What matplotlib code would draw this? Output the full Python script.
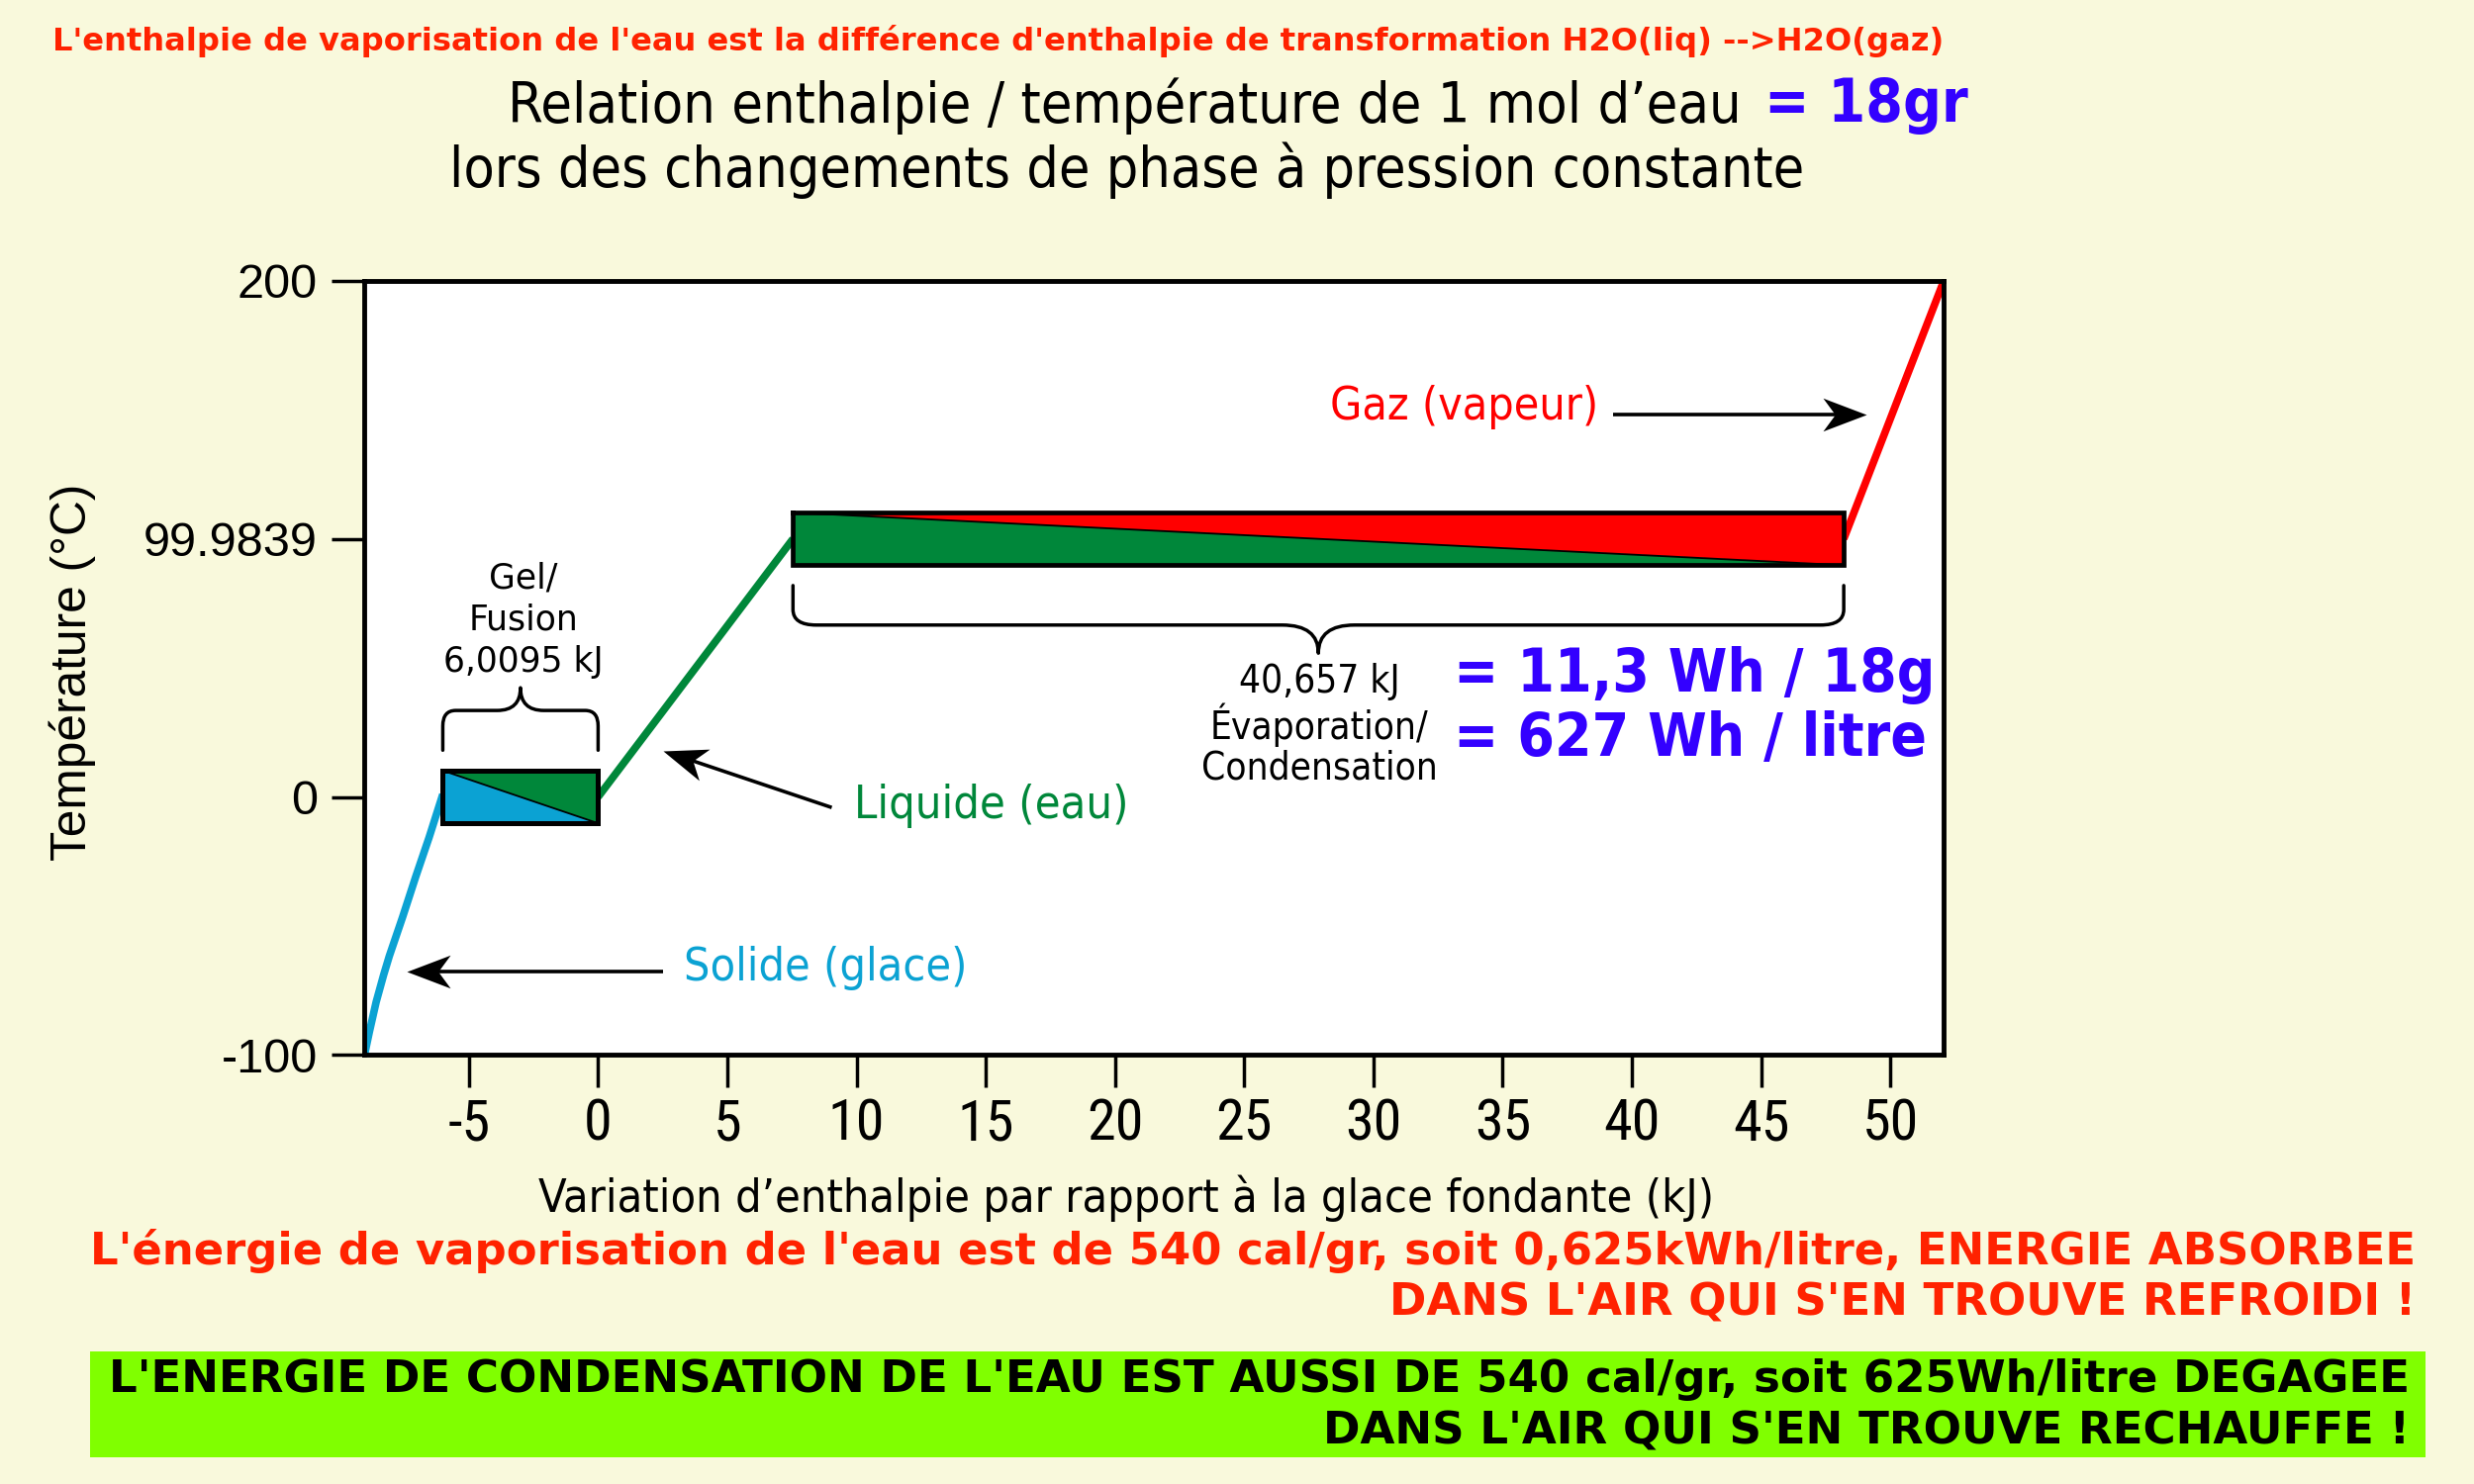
import math
import matplotlib
matplotlib.use('Agg')
import matplotlib.pyplot as plt
from matplotlib.path import Path
from matplotlib.patches import PathPatch, Rectangle
from matplotlib.markers import MarkerStyle
from matplotlib import font_manager as fm

# ---------------- data ----------------
solid_x = [-9.04, -8.85, -8.59, -8.30, -8.08, -7.56, -7.06, -6.54, -6.01]
solid_y = [-100, -91.0, -79.5, -69.0, -61.7, -46.4, -31.0, -15.7, 1.0]
fusion_x = [-6.0095, 0.0]          # fusion plateau (6,0095 kJ)
fusion_t = 0.0
liquid_x = [0.0, 7.54]
liquid_y = [0.0, 99.9839]
vapor_x = [7.54, 48.197]           # evaporation plateau (40,657 kJ)
vapor_t = 99.9839
gas_x = [48.197, 52.07]
gas_y = [99.9839, 200.0]

xticks = [-5, 0, 5, 10, 15, 20, 25, 30, 35, 40, 45, 50]
xtick_labels = [str(v) for v in xticks]
yticks = [-100, 0, 99.9839, 200]
ytick_labels = ['-100', '0', '99.9839', '200']

# ---------------- style ----------------
BG = '#F9F9DC'
BLUE = '#0BA2D3'
GREEN = '#00873A'
RED = '#FF0000'
VIOLET = '#3300FF'
TXT_RED = '#FF2200'

flist = fm.fontManager.ttflist
names = {f.name for f in flist}
if any(f.name == 'DejaVu Sans' and f.stretch == 'condensed' for f in flist):
    COND = dict(family='DejaVu Sans', stretch='condensed')
elif 'Roboto Condensed' in names:
    COND = dict(family='Roboto Condensed')
elif 'Liberation Sans Narrow' in names:
    COND = dict(family='Liberation Sans Narrow')
elif 'Open Sans Condensed' in names:
    COND = dict(family='Open Sans Condensed')
else:
    COND = dict(family='DejaVu Sans')
if 'Liberation Sans Narrow' in names:
    NARROW = 'Liberation Sans Narrow'
elif 'Roboto Condensed' in names:
    NARROW = 'Roboto Condensed'
else:
    NARROW = 'Liberation Sans'

DW, DH = 1568.0, 941.0
SX = 2500.0 / DW


def fx(d):
    return d / DW


def fy(d):
    return 1 - d / DH


fig = plt.figure(figsize=(25, 15), dpi=100, facecolor=BG)
renderer = fig.canvas.get_renderer()


def fit(t, target, vertical=False):
    for _ in range(3):
        bb = t.get_window_extent(renderer=renderer)
        w = bb.height if vertical else bb.width
        t.set_fontsize(t.get_fontsize() * target * SX / w)
    return t.get_fontsize()


ax = fig.add_axes([fx(231), fy(669), (1232 - 231) / DW, (669 - 178) / DH])
ax.set_facecolor('white')
ax.set_xlim(-9.04, 52.07)
ax.set_ylim(-100, 200)
for s in ax.spines.values():
    s.set_linewidth(3.5)
    s.set_color('black')
    s.set_zorder(6)

ax.set_xticks(xticks)
ax.set_xticklabels(xtick_labels)
ax.set_yticks(yticks)
ax.set_yticklabels(ytick_labels)
ax.tick_params(axis='both', direction='out', length=24, width=2.5, color='black')
ax.tick_params(axis='y', pad=10)
ax.tick_params(axis='x', pad=7)
for lab in ax.get_yticklabels():
    lab.set_fontfamily('Liberation Sans')
    lab.set_fontsize(35)
for lab in ax.get_xticklabels():
    lab.set_fontfamily(NARROW)
    lab.set_fontsize(40)
fig.canvas.draw()
w50 = ax.get_xticklabels()[-1].get_window_extent(renderer=renderer).width
xfs = 40 * 36 * SX / w50
for lab in ax.get_xticklabels():
    lab.set_fontsize(xfs)

# curves
ax.plot(solid_x, solid_y, color=BLUE, lw=5.5, solid_capstyle='butt',
        solid_joinstyle='round', zorder=2)
ax.plot(liquid_x, liquid_y, color=GREEN, lw=5.5, solid_capstyle='butt', zorder=2)
ax.plot(gas_x, gas_y, color=RED, lw=5.5, solid_capstyle='butt', zorder=2)


def plateau(x, t, h, c_low, c_up, elw):
    x0, x1 = x
    ax.fill([x0, x0, x1], [t + h, t - h, t - h], color=c_low, lw=0, zorder=3)
    ax.fill([x0, x1, x1], [t + h, t + h, t - h], color=c_up, lw=0, zorder=3)
    ax.plot([x0, x1], [t + h, t - h], color='black', lw=1.3, zorder=4)
    ax.plot([x0, x1, x1, x0, x0], [t + h, t + h, t - h, t - h, t + h],
            color='black', lw=elw, zorder=5, solid_joinstyle='miter')


plateau(fusion_x, fusion_t, 10.2, BLUE, GREEN, 3.6)
plateau(vapor_x, vapor_t, 10.2, GREEN, RED, 3.4)


def brace(x0, x1, y_end, y_flat, y_tip, rx, ry, rt, lw=2.5):
    xm = (x0 + x1) / 2
    s = 1 if y_tip > y_end else -1
    verts = [(x0, y_end), (x0, y_flat - s * ry), (x0, y_flat), (x0 + rx, y_flat),
             (xm - rt, y_flat), (xm, y_flat), (xm, y_tip),
             (xm, y_flat), (xm + rt, y_flat),
             (x1 - rx, y_flat), (x1, y_flat), (x1, y_flat - s * ry), (x1, y_end)]
    codes = [Path.MOVETO, Path.LINETO, Path.CURVE3, Path.CURVE3,
             Path.LINETO, Path.CURVE3, Path.CURVE3, Path.CURVE3, Path.CURVE3,
             Path.LINETO, Path.CURVE3, Path.CURVE3, Path.LINETO]
    ax.add_patch(PathPatch(Path(verts, codes), fc='none', ec='black', lw=lw,
                           capstyle='round', joinstyle='round', zorder=4))


brace(fusion_x[0], fusion_x[1], 18.1, 33.5, 42.3, 0.5, 6.0, 0.9)
brace(vapor_x[0], vapor_x[1], 81.9, 66.6, 55.7, 0.9, 6.0, 1.4)

# barbed arrow head (tip at origin, pointing +x)
HEAD = Path([(0, 0), (-1, 0.38), (-0.72, 0), (-1, -0.38), (0, 0)],
            [Path.MOVETO, Path.LINETO, Path.LINETO, Path.LINETO, Path.CLOSEPOLY])
HEAD_PX = 44.0


def arrow(tail, head):
    p0 = ax.transData.transform(tail)
    p1 = ax.transData.transform(head)
    dx, dy = p1[0] - p0[0], p1[1] - p0[1]
    L = math.hypot(dx, dy)
    ang = math.degrees(math.atan2(dy, dx))
    pe = (p1[0] - dx / L * HEAD_PX * 0.6, p1[1] - dy / L * HEAD_PX * 0.6)
    de = ax.transData.inverted().transform(pe)
    ax.plot([tail[0], de[0]], [tail[1], de[1]], color='black', lw=2.6,
            solid_capstyle='butt', zorder=4)
    m = MarkerStyle(HEAD).rotated(deg=ang)
    ax.plot([head[0]], [head[1]], marker=m, markersize=2 * HEAD_PX * 0.72,
            color='black', mew=0, zorder=4)


arrow((39.26, 148.0), (49.08, 148.0))
arrow((9.04, -4.1), (2.50, 17.9))
arrow((2.50, -67.6), (-7.39, -67.6))

# annotation texts inside axes
t = ax.text(28.33, 151.2, 'Gaz (vapeur)', color=RED, ha='left', va='center', fontsize=30, **COND)
fit(t, 170)
t = ax.text(9.89, -3.5, 'Liquide (eau)', color=GREEN, ha='left', va='center', fontsize=30, **COND)
fit(t, 174)
t = ax.text(3.30, -66.4, 'Solide (glace)', color=BLUE, ha='left', va='center', fontsize=30, **COND)
fit(t, 179)
t = ax.text(-2.9, 68.5, 'Gel/\nFusion\n6,0095 kJ', color='black', ha='center', va='center',
            multialignment='center', fontsize=24, family='DejaVu Sans', linespacing=1.3)
fit(t, 102)
t = ax.text(27.9, 28.0, '40,657 kJ\nÉvaporation/\nCondensation', color='black', ha='center',
            va='center', multialignment='center', fontsize=24, linespacing=1.07, **COND)
fit(t, 150)
t1 = ax.text(33.09, 47.2, '= 11,3 Wh / 18g', color=VIOLET, ha='left', va='center',
             fontsize=36, fontweight='bold', **COND)
fs = fit(t1, 305)
ax.text(33.09, 22.2, '= 627 Wh / litre', color=VIOLET, ha='left', va='center',
        fontsize=fs, fontweight='bold', **COND)

# axis labels
t = fig.text(fx(46), fy(426), 'Température (°C)', rotation=90, ha='center', va='center',
             fontsize=30, family='Liberation Sans', color='black')
fit(t, 239, vertical=True)
t = fig.text(fx(341), fy(760), 'Variation d’enthalpie par rapport à la glace fondante (kJ)',
             ha='left', va='center', fontsize=30, color='black', **COND)
fit(t, 746)

# titles
t = fig.text(fx(33), fy(26), "L'enthalpie de vaporisation de l'eau est la différence d'enthalpie "
             "de transformation H2O(liq) -->H2O(gaz)", ha='left', va='center',
             fontsize=18, fontweight='bold', family='DejaVu Sans', color=TXT_RED)
fit(t, 1195)
t = fig.text(fx(322), fy(67), 'Relation enthalpie / température de 1 mol d’eau', ha='left',
             va='center', fontsize=36, color='black', **COND)
fit(t, 783)
t = fig.text(fx(1118), fy(67), '= 18gr', ha='left', va='center', fontsize=36,
             fontweight='bold', color=VIOLET, **COND)
fit(t, 129)
t = fig.text(fx(285), fy(108), 'lors des changements de phase à pression constante', ha='left',
             va='center', fontsize=36, color='black', **COND)
fit(t, 859)

# bottom texts
t = fig.text(fx(1531), fy(793), "L'énergie de vaporisation de l'eau est de 540 cal/gr, soit "
             "0,625kWh/litre, ENERGIE ABSORBEE", ha='right', va='center', fontsize=30,
             fontweight='bold', family='DejaVu Sans', color=TXT_RED)
fs = fit(t, 1474)
fig.text(fx(1531), fy(826), "DANS L'AIR QUI S'EN TROUVE REFROIDI !", ha='right', va='center',
         fontsize=fs, fontweight='bold', family='DejaVu Sans', color=TXT_RED)

fig.patches.append(Rectangle((fx(57), fy(924)), (1537 - 57) / DW, (924 - 857) / DH,
                             transform=fig.transFigure, fc='#80FF00', ec='none', zorder=0))
t = fig.text(fx(1527), fy(875), "L'ENERGIE DE CONDENSATION DE L'EAU EST AUSSI DE 540 cal/gr, "
             "soit 625Wh/litre DEGAGEE", ha='right', va='center', fontsize=30,
             fontweight='bold', family='DejaVu Sans', color='black')
fs = fit(t, 1458)
fig.text(fx(1527), fy(908), "DANS L'AIR QUI S'EN TROUVE RECHAUFFE !", ha='right', va='center',
         fontsize=fs, fontweight='bold', family='DejaVu Sans', color='black')

fig.savefig('out.png', dpi=100, facecolor=BG)
